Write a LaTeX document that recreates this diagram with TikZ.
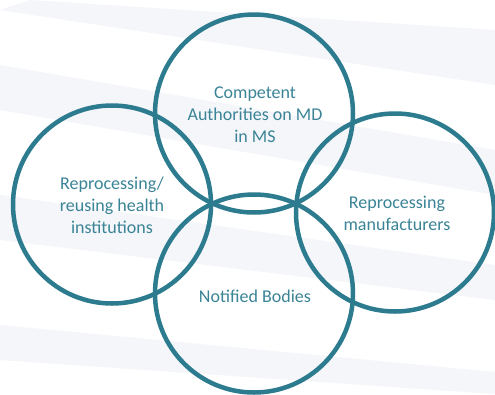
\documentclass[tikz,border=0pt]{standalone}
\usepackage{fontspec}
\setmainfont{Carlito}
\definecolor{ring}{HTML}{2C7B8E}
\definecolor{txt}{HTML}{3A8496}
\definecolor{stripe}{HTML}{F4F6FA}
\begin{document}
\begin{tikzpicture}[x=1pt,y=-1pt,
  ring/.style={draw=ring,line width=4.5pt},
  lbl/.style={text=txt,align=center,font=\fontsize{18}{22}\selectfont}]
\useasboundingbox (0,0) rectangle (495,394);
\fill[white] (0,0) rectangle (495,394);
% faint background stripes
\fill[stripe] (30,0) -- (0,10) -- (495,85) -- (495,30) -- cycle;
\fill[stripe] (0,65) -- (0,110) -- (495,195) -- (495,150) -- cycle;
\fill[stripe] (0,195) -- (0,240) -- (495,300) -- (495,265) -- cycle;
\fill[stripe] (0,325) -- (0,360) -- (495,394) -- (495,372) -- cycle;
% circles
\node[ring,circle,minimum size=198pt,inner sep=0pt] (ca) at (254,113.5) {};
\node[ring,circle,minimum size=198pt,inner sep=0pt] (rh) at (112,204.5) {};
\node[ring,circle,minimum size=198pt,inner sep=0pt] (rm) at (395,212.5) {};
\node[ring,circle,minimum size=198pt,inner sep=0pt] (nb) at (254,293.5) {};
% labels
\node[lbl] (tca) at (255,115) {Competent\\Authorities on MD\\in MS};
\node[lbl] (trh) at (112,205) {Reprocessing/\\reusing health\\institutions};
\node[lbl] (trm) at (397,213) {Reprocessing\\manufacturers};
\node[lbl] (tnb) at (255,296) {Notified Bodies};
\end{tikzpicture}
\end{document}
